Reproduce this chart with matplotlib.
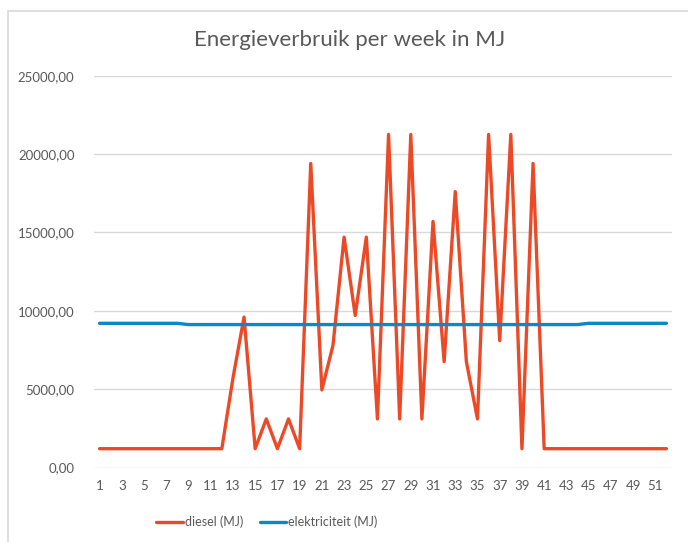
import matplotlib.pyplot as plt
import matplotlib.patches as mpatches
import numpy as np

# Weekly energy use (MJ)
weeks = np.arange(1, 53)

diesel = [1200] * 12 + [
    5700, 9600, 1200, 3100, 1200, 3100, 1200, 19400, 4950, 7800,
    14700, 9700, 14700, 3100, 21250, 3100, 21250, 3100, 15700, 6750,
    17600, 6750, 3100, 21250, 8100, 21250, 1200, 19400,
] + [1200] * 12

elektriciteit = [9200] * 8 + [9120] * 36 + [9200] * 8

title = "Energieverbruik per week in MJ"
yticks = [0, 5000, 10000, 15000, 20000, 25000]
xticks = list(range(1, 53, 2))

text_color = "#595959"
grid_color = "#D9D9D9"
diesel_color = "#EC4A27"
elec_color = "#0C87C7"

plt.rcParams["font.family"] = ["Lato", "DejaVu Sans"]

W, H = 688, 542
fig = plt.figure(figsize=(W / 100, H / 100), dpi=100)

# chart border (cropped on right/bottom in the reference)
fig.patches.append(mpatches.Rectangle((8 / W, -0.1), 1.2, 1 - 11 / H + 0.1,
                                      transform=fig.transFigure, fill=False,
                                      edgecolor="#D9D9D9", linewidth=1.2))

left, right = 94 / W, 672 / W
bottom, top = 1 - 467.5 / H, 1 - 75.7 / H
ax = fig.add_axes([left, bottom, right - left, top - bottom])

ax.plot(weeks, diesel, color=diesel_color, linewidth=2.4, label="diesel (MJ)",
        solid_joinstyle="round", solid_capstyle="round")
ax.plot(weeks, elektriciteit, color=elec_color, linewidth=2.4, label="elektriciteit (MJ)",
        solid_joinstyle="round", solid_capstyle="round")

ax.set_xlim(0.5, 52.5)
ax.set_ylim(0, 25000)
ax.set_yticks(yticks)
ax.set_yticklabels([f"{v:.2f}".replace(".", ",") for v in yticks])
ax.set_xticks(xticks)
ax.set_xticklabels([str(x) for x in xticks])
ax.tick_params(axis="both", length=0, labelsize=9.5, colors=text_color)
ax.tick_params(axis="y", pad=14)
ax.tick_params(axis="x", pad=9)

ax.grid(axis="y", color=grid_color, linewidth=1)
ax.set_axisbelow(True)
for s in ax.spines.values():
    s.set_visible(False)

fig.text(350 / W, 1 - 40 / H, title, ha="center", va="center",
         fontsize=16, color=text_color)

leg = fig.legend(loc="center", bbox_to_anchor=(267 / W, 1 - 522 / H), ncol=2,
                 frameon=False, fontsize=9, handlelength=2.1, handletextpad=0.2,
                 columnspacing=1.3)
for t in leg.get_texts():
    t.set_color(text_color)

fig.savefig("out.png", dpi=100)
